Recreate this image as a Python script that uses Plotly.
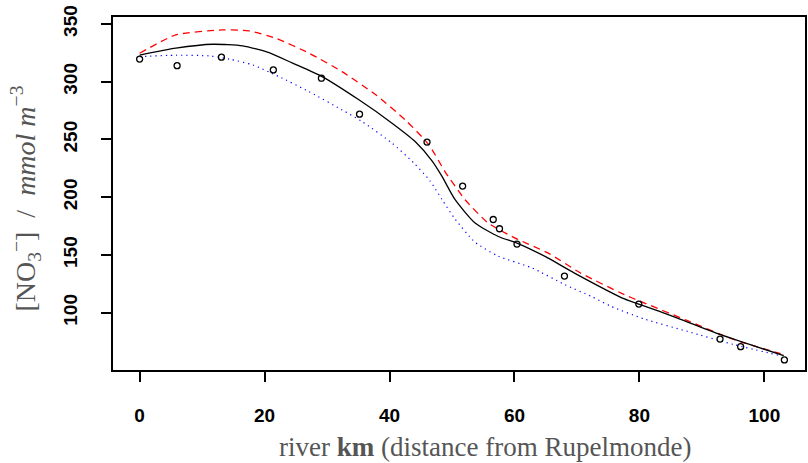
import plotly.graph_objects as go

# observed data
obs_km = [0.0, 6.0, 13.1, 21.4, 29.1, 35.2, 46.0, 51.7, 56.6, 57.6, 60.4, 68.0, 79.9, 92.9, 96.2, 103.2]
obs_no3 = [319.6, 313.9, 321.2, 310.2, 303.0, 271.9, 247.7, 209.6, 180.7, 172.7, 159.4, 131.7, 107.5, 77.2, 70.6, 59.1]

# model (black solid)
mod_km = [0, 5.8, 11.7, 16.5, 20.7, 24.5, 29.2, 35.1, 40.4, 44.1, 46.8, 48.4, 50.5, 53.7, 57.4, 60.4,
          64.9, 69.6, 77.6, 79.9, 86.1, 93.0, 103.1]
mod_no3 = [323, 329, 332.4, 331, 325.2, 316, 304.4, 284.3, 264.1, 248.2, 231.5, 218, 197.8, 177.6, 166, 160.3,
           148.7, 134.3, 111.9, 107.5, 95.4, 81, 62.8]

# upper (red dashed)
up_km = [0, 5.8, 13.3, 17.5, 21.8, 27.1, 32.4, 37.8, 42.7, 46.3, 48.9, 52.1, 55.8, 60.1, 65.4, 70.5,
         77.6, 79.9, 87.7, 95.2, 102.6]
up_no3 = [324.6, 340.5, 344.8, 344, 337.6, 324.7, 308.7, 288.6, 266, 245.3, 222, 197.8, 177.6, 164.6, 151.6, 134.6,
          115.6, 110.4, 93.1, 76.6, 64.5]

# lower (blue dotted)
lo_km = [0, 5.8, 11.2, 14.4, 18.1, 22.3, 27.1, 32.4, 35.6, 40.4, 44.0, 46.5, 48.4, 50.5, 53.7, 57.4,
         62.7, 68.1, 72.3, 75.5, 80.8, 87.7, 95.2, 102.6]
lo_no3 = [321.7, 322.9, 322.3, 319.5, 314.5, 304.4, 291.4, 275.6, 265.5, 246.8, 229, 214, 198, 181, 161, 149,
          139, 124.2, 114.1, 105.4, 94.5, 83.8, 72.3, 62.8]

x_ticks = [0, 20, 40, 60, 80, 100]
y_ticks = [100, 150, 200, 250, 300, 350]

fig = go.Figure()
fig.add_trace(go.Scatter(x=lo_km, y=lo_no3, mode="lines", line=dict(color="blue", width=1.2, dash="1.2px,4px", shape="spline", smoothing=0.6), showlegend=False))
fig.add_trace(go.Scatter(x=up_km, y=up_no3, mode="lines", line=dict(color="red", width=1.3, dash="7px,5px", shape="spline", smoothing=0.6), showlegend=False))
fig.add_trace(go.Scatter(x=mod_km, y=mod_no3, mode="lines", line=dict(color="black", width=1.3, shape="spline", smoothing=0.6), showlegend=False))
fig.add_trace(go.Scatter(x=obs_km, y=obs_no3, mode="markers",
                         marker=dict(symbol="circle-open", size=6, color="black", line=dict(width=1.3, color="black")),
                         showlegend=False))

tickfont = dict(family="Liberation Sans Narrow, Liberation Sans", size=19, color="black", weight="bold")

fig.update_layout(
    width=808, height=463,
    margin=dict(l=113, r=1, t=17, b=93),
    paper_bgcolor="white", plot_bgcolor="white",
    xaxis=dict(range=[-4.26, 106.5], tickvals=x_ticks, ticktext=[str(v) for v in x_ticks],
               showgrid=False, zeroline=False, showline=True, linecolor="black", linewidth=2,
               mirror=True, ticks="outside", ticklen=10, tickwidth=1.5, tickcolor="black",
               tickfont=tickfont, ticklabelstandoff=17),
    yaxis=dict(range=[50.4, 356], tickvals=y_ticks, ticktext=[str(v) for v in y_ticks],
               showgrid=False, zeroline=False, showline=True, linecolor="black", linewidth=2,
               mirror=True, ticks="outside", ticklen=10, tickwidth=1.5, tickcolor="black",
               tickfont=tickfont, tickangle=-90, ticklabelstandoff=16),
    annotations=[
        dict(text="river <b>km</b> (distance from Rupelmonde)", xref="paper", yref="paper",
             x=0.537, y=-0.217, xanchor="center", yanchor="middle", showarrow=False,
             font=dict(family="Liberation Serif", size=27, color="#555555")),
        dict(text="[NO<sub>3</sub><sup>−</sup>]\u2002/\u2002<i>mmol m</i><sup>−3</sup>", xref="paper", yref="paper",
             x=-0.126, y=0.485, xanchor="center", yanchor="middle", showarrow=False, textangle=-90,
             font=dict(family="Liberation Serif", size=28, color="#555555")),
    ],
)

fig.write_html("out.html", config={"displayModeBar": False},
               post_script="document.body.style.margin='0px';document.body.style.overflow='hidden';")
